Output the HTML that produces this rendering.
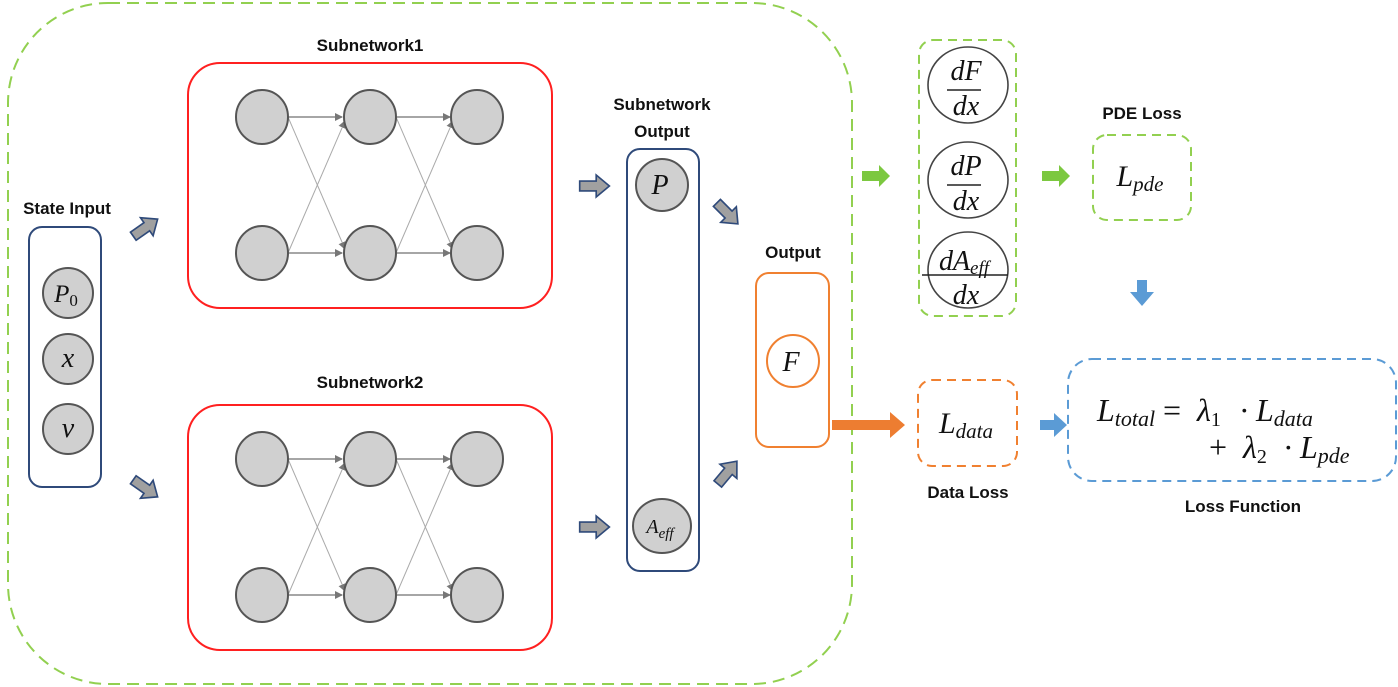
<!DOCTYPE html>
<html><head><meta charset="utf-8"><style>
html,body{margin:0;padding:0;background:#fff;width:1398px;height:687px;overflow:hidden}
svg{display:block}
.lbl{font-family:"Liberation Sans",sans-serif;font-weight:bold;font-size:17px;fill:#111;text-anchor:middle}
.m{font-family:"Liberation Serif",serif;font-style:italic;fill:#111;text-anchor:middle}
.s{text-anchor:start}
.n{fill:#d0d0d0;stroke:#555;stroke-width:2}
.e{stroke:#888;stroke-width:1.6}
.x{stroke:#aaa;stroke-width:1}
</style></head><body>
<svg width="1398" height="687" viewBox="0 0 1398 687" xmlns="http://www.w3.org/2000/svg">
<defs>
<marker id="ah" markerWidth="8" markerHeight="8" refX="7" refY="4" orient="auto" markerUnits="userSpaceOnUse" viewBox="0 0 8 8"><path d="M0,0 L8,4 L0,8 z" fill="#777"/></marker>
<path id="ba" d="M-13,-4.5 L2,-4.5 L2,-10 L14,0 L2,10 L2,4.5 L-13,4.5 z"/>
<path id="fa" d="M-14,-5 L3,-5 L3,-11 L14,0 L3,11 L3,5 L-14,5 z"/>
<g id="net">
 <line class="e" x1="288" y1="0" x2="342" y2="0" marker-end="url(#ah)"/>
 <line class="e" x1="396" y1="0" x2="450" y2="0" marker-end="url(#ah)"/>
 <line class="e" x1="288" y1="136" x2="342" y2="136" marker-end="url(#ah)"/>
 <line class="e" x1="396" y1="136" x2="450" y2="136" marker-end="url(#ah)"/>
 <line class="x" x1="288" y1="0" x2="345" y2="132" marker-end="url(#ah)"/>
 <line class="x" x1="288" y1="136" x2="345" y2="4" marker-end="url(#ah)"/>
 <line class="x" x1="396" y1="0" x2="453" y2="132" marker-end="url(#ah)"/>
 <line class="x" x1="396" y1="136" x2="453" y2="4" marker-end="url(#ah)"/>
 <ellipse class="n" cx="262" cy="0" rx="26" ry="27"/>
 <ellipse class="n" cx="370" cy="0" rx="26" ry="27"/>
 <ellipse class="n" cx="477" cy="0" rx="26" ry="27"/>
 <ellipse class="n" cx="262" cy="136" rx="26" ry="27"/>
 <ellipse class="n" cx="370" cy="136" rx="26" ry="27"/>
 <ellipse class="n" cx="477" cy="136" rx="26" ry="27"/>
</g>
</defs>

<rect x="8" y="3" width="844" height="681" rx="100" fill="none" stroke="#92d050" stroke-width="2" stroke-dasharray="12,7"/>

<text class="lbl" x="370" y="51">Subnetwork1</text>
<rect x="188" y="63" width="364" height="245" rx="32" fill="none" stroke="#ff2020" stroke-width="2"/>
<use href="#net" transform="translate(0,117)"/>
<text class="lbl" x="370" y="388">Subnetwork2</text>
<rect x="188" y="405" width="364" height="245" rx="32" fill="none" stroke="#ff2020" stroke-width="2"/>
<use href="#net" transform="translate(0,459)"/>

<text class="lbl" x="67" y="214">State Input</text>
<rect x="29" y="227" width="72" height="260" rx="13" fill="none" stroke="#2f4a7a" stroke-width="2"/>
<circle class="n" cx="68" cy="293" r="25"/>
<text class="m" x="66" y="302" font-size="25">P<tspan font-style="normal" font-size="17" dy="4">0</tspan></text>
<circle class="n" cx="68" cy="359" r="25"/>
<text class="m" x="68" y="367" font-size="28">x</text>
<circle class="n" cx="68" cy="429" r="25"/>
<text class="m" x="68" y="437" font-size="28">v</text>

<g fill="#a0a0a0" stroke="#2f4a7a" stroke-width="1.5">
<use href="#ba" transform="translate(145,228) rotate(-35) scale(1.1)"/>
<use href="#ba" transform="translate(145,488) rotate(35) scale(1.1)"/>
<use href="#ba" transform="translate(594,186) scale(1.1)"/>
<use href="#ba" transform="translate(594,527) scale(1.1)"/>
<use href="#ba" transform="translate(727,213) rotate(45) scale(1.1)"/>
<use href="#ba" transform="translate(727,473) rotate(-50) scale(1.1)"/>
</g>

<text class="lbl" x="662" y="110">Subnetwork</text>
<text class="lbl" x="662" y="137">Output</text>
<rect x="627" y="149" width="72" height="422" rx="13" fill="none" stroke="#2f4a7a" stroke-width="2"/>
<circle class="n" cx="662" cy="185" r="26"/>
<text class="m" x="660" y="194" font-size="28">P</text>
<ellipse class="n" cx="662" cy="526" rx="29" ry="27"/>
<text class="m" x="660" y="533" font-size="20">A<tspan font-size="15" dy="5">eff</tspan></text>

<text class="lbl" x="793" y="258">Output</text>
<rect x="756" y="273" width="73" height="174" rx="13" fill="none" stroke="#f08030" stroke-width="2"/>
<circle cx="793" cy="361" r="26" fill="#fff" stroke="#f08030" stroke-width="2"/>
<text class="m" x="791" y="371" font-size="28">F</text>

<path d="M832,420 L890,420 L890,412 L905,425 L890,438 L890,430 L832,430 z" fill="#ed7d31"/>

<g fill="#7cc840">
<use href="#fa" transform="translate(876,176)"/>
<use href="#fa" transform="translate(1056,176)"/>
</g>

<rect x="919" y="40" width="97" height="276" rx="14" fill="none" stroke="#92d050" stroke-width="2" stroke-dasharray="9,6"/>
<g fill="none" stroke="#444" stroke-width="1.6">
<ellipse cx="968" cy="85" rx="40" ry="38"/>
<ellipse cx="968" cy="180" rx="40" ry="38"/>
<ellipse cx="968" cy="270" rx="40" ry="38"/>
</g>
<g stroke="#222" stroke-width="1.6">
<line x1="947" y1="90" x2="981" y2="90"/>
<line x1="947" y1="185" x2="981" y2="185"/>
<line x1="922" y1="275" x2="1008" y2="275"/>
</g>
<text class="m" x="966" y="80" font-size="28">dF</text>
<text class="m" x="966" y="115" font-size="28">dx</text>
<text class="m" x="966" y="175" font-size="28">dP</text>
<text class="m" x="966" y="210" font-size="28">dx</text>
<text class="m" x="964" y="270" font-size="28">dA<tspan font-size="19" dy="4">eff</tspan></text>
<text class="m" x="966" y="304" font-size="28">dx</text>

<text class="lbl" x="1142" y="119">PDE Loss</text>
<rect x="1093" y="135" width="98" height="85" rx="14" fill="none" stroke="#92d050" stroke-width="2" stroke-dasharray="9,6"/>
<text class="m" x="1140" y="186" font-size="30">L<tspan font-size="21" dy="5">pde</tspan></text>

<path d="M1137,280 L1147,280 L1147,292 L1154,292 L1142,306 L1130,292 L1137,292 z" fill="#5b9bd5"/>
<path d="M1040,420 L1054,420 L1054,413 L1067,425 L1054,437 L1054,430 L1040,430 z" fill="#5b9bd5"/>

<rect x="918" y="380" width="99" height="86" rx="14" fill="none" stroke="#f08030" stroke-width="2" stroke-dasharray="9,6"/>
<text class="m" x="966" y="433" font-size="30">L<tspan font-size="21" dy="5">data</tspan></text>
<text class="lbl" x="968" y="498">Data Loss</text>

<rect x="1068" y="359" width="328" height="122" rx="24" fill="none" stroke="#5b9bd5" stroke-width="2" stroke-dasharray="9,6"/>
<text class="m s" font-size="32"><tspan x="1097" y="421">L</tspan><tspan font-size="22" y="426">total</tspan><tspan font-style="normal" x="1163" y="421">=</tspan><tspan x="1197" y="421">λ</tspan><tspan font-style="normal" font-size="20" y="426">1</tspan><tspan font-style="normal" x="1239" y="421">·</tspan><tspan x="1256" y="421">L</tspan><tspan font-size="22" y="426">data</tspan></text>
<text class="m s" font-size="32"><tspan font-style="normal" x="1209" y="458">+</tspan><tspan x="1243" y="458">λ</tspan><tspan font-style="normal" font-size="20" y="463">2</tspan><tspan font-style="normal" x="1283" y="458">·</tspan><tspan x="1300" y="458">L</tspan><tspan font-size="22" y="463">pde</tspan></text>
<text class="lbl" x="1243" y="512">Loss Function</text>
</svg>
</body></html>
